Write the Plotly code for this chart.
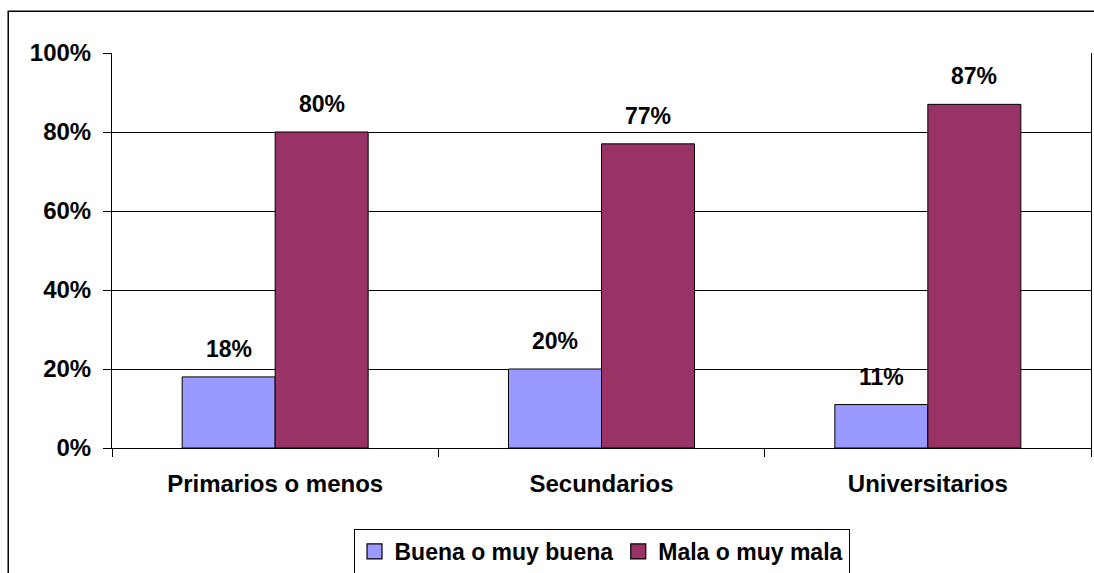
import plotly.graph_objects as go

# ── Data ─────────────────────────────────────────────────────────────────────

categories = ["Primarios o menos", "Secundarios", "Universitarios"]
buena = [18, 20, 11]
mala = [80, 77, 87]
series_names = ["Buena o muy buena", "Mala o muy mala"]
y_ticks = [0, 20, 40, 60, 80, 100]
y_tick_labels = ["0%", "20%", "40%", "60%", "80%", "100%"]

COLORS = ["#9999FF", "#993366"]
FONT = "Liberation Sans, Arial, sans-serif"

# ── Figure ───────────────────────────────────────────────────────────────────

fig = go.Figure()
for name, vals, color in zip(series_names, [buena, mala], COLORS):
    fig.add_trace(go.Bar(
        x=categories, y=vals, name=name, showlegend=False,
        marker=dict(color=color, line=dict(color="black", width=1)),
    ))
    # legend-only entry with a bigger square swatch
    fig.add_trace(go.Scatter(
        x=[None], y=[None], mode="markers", name=name,
        marker=dict(symbol="square", size=15, color=color,
                    line=dict(color="black", width=1.2)),
    ))

# value labels above each bar
bar_px = 93
for i, vals in enumerate([buena, mala]):
    shift = (i - 0.5) * bar_px
    for cat, v in zip(categories, vals):
        fig.add_annotation(
            x=cat, y=v, text=f"{v}%", showarrow=False,
            xshift=shift, yshift=13, yanchor="bottom",
            font=dict(family=FONT, size=23, color="black", weight="bold"),
        )

# outer chart-area frame
fig.add_shape(type="rect", xref="paper", yref="paper",
              x0=-0.106, x1=1.05, y0=-0.5, y1=1.106,
              line=dict(color="black", width=1.5), layer="below")

fig.update_layout(
    width=1094, height=573,
    margin=dict(l=112, r=3, t=53, b=125, autoexpand=False),
    paper_bgcolor="white", plot_bgcolor="white",
    font=dict(family=FONT, size=23, color="black", weight="bold"),
    barmode="group", bargap=0.43, bargroupgap=0,
    showlegend=True,
    legend=dict(
        orientation="h", x=0.5, xanchor="center", y=-0.205, yanchor="top",
        bordercolor="black", borderwidth=1, bgcolor="white",
        font=dict(family=FONT, size=23, color="black", weight="bold"),
        traceorder="normal", itemwidth=30,
    ),
    xaxis=dict(
        showline=True, linecolor="black", linewidth=1,
        ticks="outside", ticklen=8, tickcolor="black", tickson="boundaries",
        ticklabelstandoff=14, showgrid=False, automargin=False,
        tickfont=dict(size=24),
    ),
    yaxis=dict(
        range=[0, 100], tickmode="array", tickvals=y_ticks, ticktext=y_tick_labels,
        showline=True, linecolor="black", linewidth=1, mirror=True,
        ticks="outside", ticklen=8, tickcolor="black",
        showgrid=True, gridcolor="black", gridwidth=1,
        zeroline=False, ticklabelstandoff=7, automargin=False,
        tickfont=dict(size=24),
    ),
)

fig.write_html("out.html", config={"displayModeBar": False},
               post_script="document.body.style.margin='0px';")
